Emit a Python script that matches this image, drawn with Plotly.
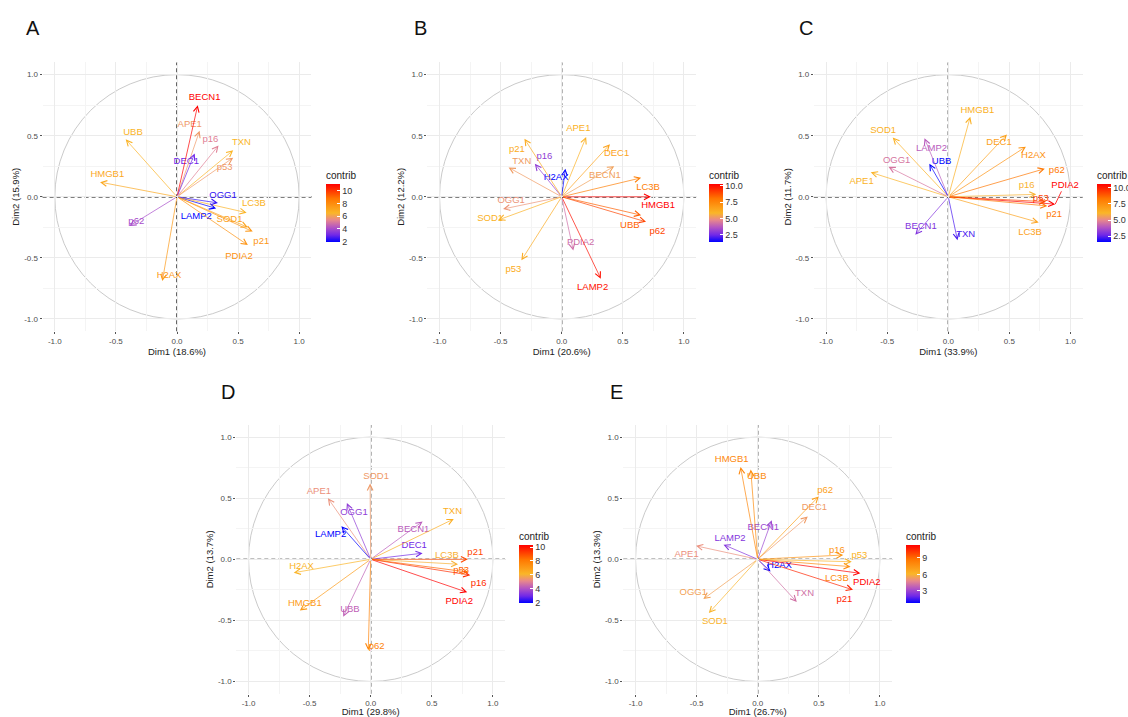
import plotly.graph_objects as go
from plotly.colors import sample_colorscale

genes = ["APE1", "BECN1", "DEC1", "H2AX", "HMGB1", "LAMP2", "LC3B", "OGG1",
         "PDIA2", "SOD1", "TXN", "UBB", "p16", "p21", "p53", "p62"]

# ---- Panel A ----
a_dim1 = [0.185, 0.17, 0.145, -0.12, -0.63, 0.32, 0.57, 0.335, 0.58, 0.58, 0.46, -0.42, 0.34, 0.62, 0.46, -0.39]
a_dim2 = [0.54, 0.75, 0.355, -0.69, 0.12, -0.095, -0.13, -0.05, -0.395, -0.25, 0.38, 0.47, 0.42, -0.285, 0.32, -0.24]
a_contrib = [5.8, 11.1, 3.0, 7.5, 7.0, 1.9, 6.6, 2.4, 7.8, 7.2, 6.5, 6.6, 5.2, 7.6, 5.8, 4.0]
a_lab_x = [0.104, 0.226, 0.076, -0.065, -0.57, 0.158, 0.63, 0.377, 0.507, 0.43, 0.527, -0.36, 0.273, 0.69, 0.39, -0.333]
a_lab_y = [0.59, 0.81, 0.29, -0.642, 0.182, -0.163, -0.06, 0.011, -0.49, -0.19, 0.444, 0.522, 0.47, -0.367, 0.237, -0.2]

# ---- Panel B ----
b_dim1 = [0.20, 0.43, 0.395, 0.03, 0.73, 0.32, 0.65, -0.48, 0.095, -0.52, -0.435, 0.65, -0.22, -0.305, -0.33, 0.69]
b_dim2 = [0.49, 0.25, 0.43, 0.23, 0.0, -0.67, 0.155, -0.10, -0.44, -0.19, 0.24, -0.15, 0.27, 0.475, -0.52, -0.205]
b_contrib = [6.0, 5.3, 6.5, 1.35, 10.3, 10.0, 7.8, 5.0, 4.2, 6.0, 5.2, 8.5, 3.0, 6.2, 6.2, 9.0]
b_lab_x = [0.136, 0.354, 0.449, -0.046, 0.789, 0.253, 0.707, -0.414, 0.155, -0.585, -0.327, 0.558, -0.141, -0.367, -0.395, 0.784]
b_lab_y = [0.559, 0.172, 0.355, 0.158, -0.076, -0.745, 0.076, -0.035, -0.377, -0.177, 0.286, -0.232, 0.327, 0.387, -0.595, -0.286]

# ---- Panel C ----
c_dim1 = [-0.635, -0.27, 0.48, 0.635, 0.18, -0.195, 0.74, -0.49, 0.875, -0.455, 0.075, -0.155, 0.72, 0.81, 0.80, 0.79]
c_dim2 = [0.2, -0.31, 0.51, 0.41, 0.655, 0.48, -0.21, 0.245, -0.06, 0.485, -0.355, 0.27, 0.02, -0.075, -0.04, 0.23]
c_contrib = [6.2, 3.0, 6.8, 7.3, 6.3, 4.0, 6.8, 4.6, 10.6, 6.3, 2.3, 1.6, 6.0, 8.2, 9.3, 8.3]
c_lab_x = [-0.71, -0.224, 0.415, 0.697, 0.238, -0.137, 0.669, -0.423, 0.956, -0.533, 0.142, -0.055, 0.642, 0.866, 0.757, 0.888]
c_lab_y = [0.123, -0.246, 0.445, 0.333, 0.709, 0.396, -0.295, 0.3, 0.095, 0.538, -0.306, 0.286, 0.095, -0.15, -0.014, 0.218]

# ---- Panel D ----
d_dim1 = [-0.35, 0.425, 0.425, -0.63, -0.58, -0.24, 0.715, -0.195, 0.79, -0.005, 0.68, -0.225, 0.815, 0.795, 0.80, -0.02]
d_dim2 = [0.50, 0.31, 0.05, -0.11, -0.42, 0.27, -0.04, 0.46, -0.27, 0.62, 0.33, -0.47, -0.13, 0.0, -0.105, -0.745]
d_contrib = [5.3, 4.2, 3.0, 6.2, 7.0, 1.95, 6.0, 3.5, 10.3, 5.5, 6.4, 4.3, 9.5, 9.0, 8.5, 7.8]
d_lab_x = [-0.424, 0.35, 0.356, -0.566, -0.539, -0.328, 0.624, -0.137, 0.725, 0.044, 0.67, -0.17, 0.884, 0.856, 0.741, 0.049]
d_lab_y = [0.556, 0.241, 0.112, -0.06, -0.362, 0.2, 0.03, 0.378, -0.348, 0.679, 0.389, -0.416, -0.203, 0.055, -0.093, -0.712]

# ---- Panel E ----
e_dim1 = [-0.505, 0.115, 0.41, 0.105, -0.14, -0.28, 0.76, -0.445, 0.84, -0.40, 0.32, -0.057, 0.70, 0.78, 0.77, 0.50]
e_dim2 = [0.11, 0.32, 0.35, -0.10, 0.755, 0.12, -0.06, -0.325, -0.115, -0.44, -0.35, 0.735, 0.035, -0.25, -0.02, 0.515]
e_contrib = [5.0, 3.0, 5.3, 0.83, 8.0, 2.5, 7.8, 5.5, 11.3, 6.0, 4.2, 7.8, 7.5, 10.5, 6.2, 7.0]
e_lab_x = [-0.582, 0.046, 0.464, 0.178, -0.213, -0.227, 0.648, -0.527, 0.893, -0.35, 0.383, -0.008, 0.648, 0.71, 0.833, 0.552]
e_lab_y = [0.036, 0.26, 0.419, -0.052, 0.816, 0.173, -0.156, -0.274, -0.192, -0.512, -0.279, 0.674, 0.071, -0.334, 0.027, 0.564]

panel_letters = ["A", "B", "C", "D", "E"]
dim1_titles = ["Dim1 (18.6%)", "Dim1 (20.6%)", "Dim1 (33.9%)", "Dim1 (29.8%)", "Dim1 (26.7%)"]
dim2_titles = ["Dim2 (15.9%)", "Dim2 (12.2%)", "Dim2 (11.7%)", "Dim2 (13.7%)", "Dim2 (13.3%)"]
cb_tickvals = [[2, 4, 6, 8, 10], [2.5, 5, 7.5, 10], [2.5, 5, 7.5, 10], [2, 4, 6, 8, 10], [3, 6, 9]]
cb_ticktext = [["2", "4", "6", "8", "10"], ["2.5", "5.0", "7.5", "10.0"], ["2.5", "5.0", "7.5", "10.0"],
               ["2", "4", "6", "8", "10"], ["3", "6", "9"]]

panels = [
    (a_dim1, a_dim2, a_contrib, a_lab_x, a_lab_y),
    (b_dim1, b_dim2, b_contrib, b_lab_x, b_lab_y),
    (c_dim1, c_dim2, c_contrib, c_lab_x, c_lab_y),
    (d_dim1, d_dim2, d_contrib, d_lab_x, d_lab_y),
    (e_dim1, e_dim2, e_contrib, e_lab_x, e_lab_y),
]

# ---- layout geometry (pixels) ----
W, H = 1128, 717
origins_px = [(177.0, 196.8), (561.7, 196.8), (948.3, 196.8), (370.7, 559.3), (757.7, 559.3)]
half = 134.4
letter_px = [(33, 28), (420, 28), (806, 28), (228, 392), (616, 392)]
cbar_px = [(326, 205), (709, 205), (1097, 205), (519, 566), (906, 566)]

colorscale = [
    [0.0, "rgb(0,0,255)"],
    [0.12, "rgb(112,40,232)"],
    [0.25, "rgb(178,84,196)"],
    [0.38, "rgb(232,136,140)"],
    [0.5, "rgb(250,182,40)"],
    [0.75, "rgb(255,118,0)"],
    [1.0, "rgb(255,0,0)"],
]

FONT = "Liberation Sans, Arial, sans-serif"
fig = go.Figure()
annotations = []
shapes = []
layout_axes = {}

for i, (d1, d2, contrib, lx, ly) in enumerate(panels):
    n = i + 1
    xname = "x" if n == 1 else f"x{n}"
    yname = "y" if n == 1 else f"y{n}"
    xkey = "xaxis" if n == 1 else f"xaxis{n}"
    ykey = "yaxis" if n == 1 else f"yaxis{n}"
    cax = "coloraxis" if n == 1 else f"coloraxis{n}"
    ox, oy = origins_px[i]
    xdom = [(ox - half) / W, (ox + half) / W]
    ydom = [1 - (oy + half) / H, 1 - (oy - half) / H]
    axis_common = dict(
        range=[-1.1, 1.1], tickvals=[-1, -0.5, 0, 0.5, 1], ticktext=["-1.0", "-0.5", "0.0", "0.5", "1.0"],
        showgrid=True, gridcolor="#EBEBEB", gridwidth=1, zeroline=False, showline=False,
        ticks="outside", ticklen=2, tickwidth=0.6, tickcolor="#555555", automargin=False,
        tickfont=dict(size=8, color="#4D4D4D", family=FONT),
        minor=dict(tickvals=[-0.75, -0.25, 0.25, 0.75], showgrid=True, gridcolor="#F4F4F4", gridwidth=0.6, ticklen=0),
    )
    layout_axes[xkey] = dict(axis_common, domain=xdom, anchor=yname,
                             title=dict(text=dim1_titles[i], font=dict(size=9.5, color="#222222", family=FONT), standoff=2))
    layout_axes[ykey] = dict(axis_common, domain=ydom, anchor=xname,
                             title=dict(text=dim2_titles[i], font=dict(size=9.5, color="#222222", family=FONT), standoff=2))

    cmin, cmax = min(contrib), max(contrib)
    norm = [(c - cmin) / (cmax - cmin) for c in contrib]
    cols = sample_colorscale(colorscale, norm)

    # circle + dashed reference lines
    shapes.append(dict(type="circle", xref=xname, yref=yname, x0=-1, x1=1, y0=-1, y1=1,
                       line=dict(color="#BDBDBD", width=0.8), layer="below"))
    shapes.append(dict(type="line", xref=f"{xname} domain", yref=yname, x0=0, x1=1, y0=0, y1=0,
                       line=dict(color="#000000", width=1.2, dash="4px,3px"), layer="below"))
    shapes.append(dict(type="line", xref=xname, yref=f"{yname} domain", x0=0, x1=0, y0=0, y1=1,
                       line=dict(color="#000000", width=1.2, dash="4px,3px"), layer="below"))

    # arrows
    for xv, yv, col in zip(d1, d2, cols):
        annotations.append(dict(x=xv, y=yv, ax=0, ay=0, xref=xname, yref=yname, axref=xname, ayref=yname,
                                text="", showarrow=True, arrowhead=5, arrowsize=1.6, arrowwidth=0.7,
                                arrowcolor=col, standoff=0, startstandoff=0))

    # labels
    fig.add_trace(go.Scatter(x=lx, y=ly, text=genes, mode="text", xaxis=xname, yaxis=yname,
                             textfont=dict(color=cols, size=9.5, family=FONT), showlegend=False,
                             hoverinfo="skip", cliponaxis=False))

    # invisible trace carrying the colour scale
    fig.add_trace(go.Scatter(x=d1, y=d2, mode="markers", xaxis=xname, yaxis=yname, showlegend=False,
                             hoverinfo="skip",
                             marker=dict(color=contrib, coloraxis=cax, size=1, opacity=0)))
    cbx, cby = cbar_px[i]
    layout_axes[cax] = dict(
        cmin=cmin, cmax=cmax, colorscale=colorscale,
        colorbar=dict(
            title=dict(text="contrib", side="top", font=dict(size=10, color="#222222", family=FONT)),
            x=cbx / W, xanchor="left", y=1 - cby / H, yanchor="middle",
            thickness=14, len=74, lenmode="pixels", xpad=0, ypad=0, outlinewidth=0,
            tickvals=cb_tickvals[i], ticktext=cb_ticktext[i], ticks="inside", tickcolor="white", ticklen=3,
            tickfont=dict(size=9, color="#333333", family=FONT),
        ),
    )

    lxp, lyp = letter_px[i]
    annotations.append(dict(text=panel_letters[i], x=lxp / W, y=1 - lyp / H, xref="paper", yref="paper",
                            showarrow=False, xanchor="center", yanchor="middle",
                            font=dict(size=20, color="#111111", family=FONT)))

# repel segment for PDIA2 label in panel C
pd = genes.index("PDIA2")
fig.add_trace(go.Scatter(x=[c_dim1[pd], c_lab_x[pd] - 0.03], y=[c_dim2[pd], c_lab_y[pd] - 0.05],
                         mode="lines", xaxis="x3", yaxis="y3", showlegend=False, hoverinfo="skip",
                         line=dict(color=sample_colorscale(colorscale, [1.0])[0], width=0.8)))

fig.update_layout(
    width=W, height=H, margin=dict(l=0, r=0, t=0, b=0, autoexpand=False),
    paper_bgcolor="white", plot_bgcolor="white",
    annotations=annotations, shapes=shapes, showlegend=False,
    font=dict(family=FONT),
    **layout_axes,
)

fig.write_html("out.html", config={"displayModeBar": False},
               post_script="document.body.style.margin='0px';document.body.style.overflow='hidden';")
